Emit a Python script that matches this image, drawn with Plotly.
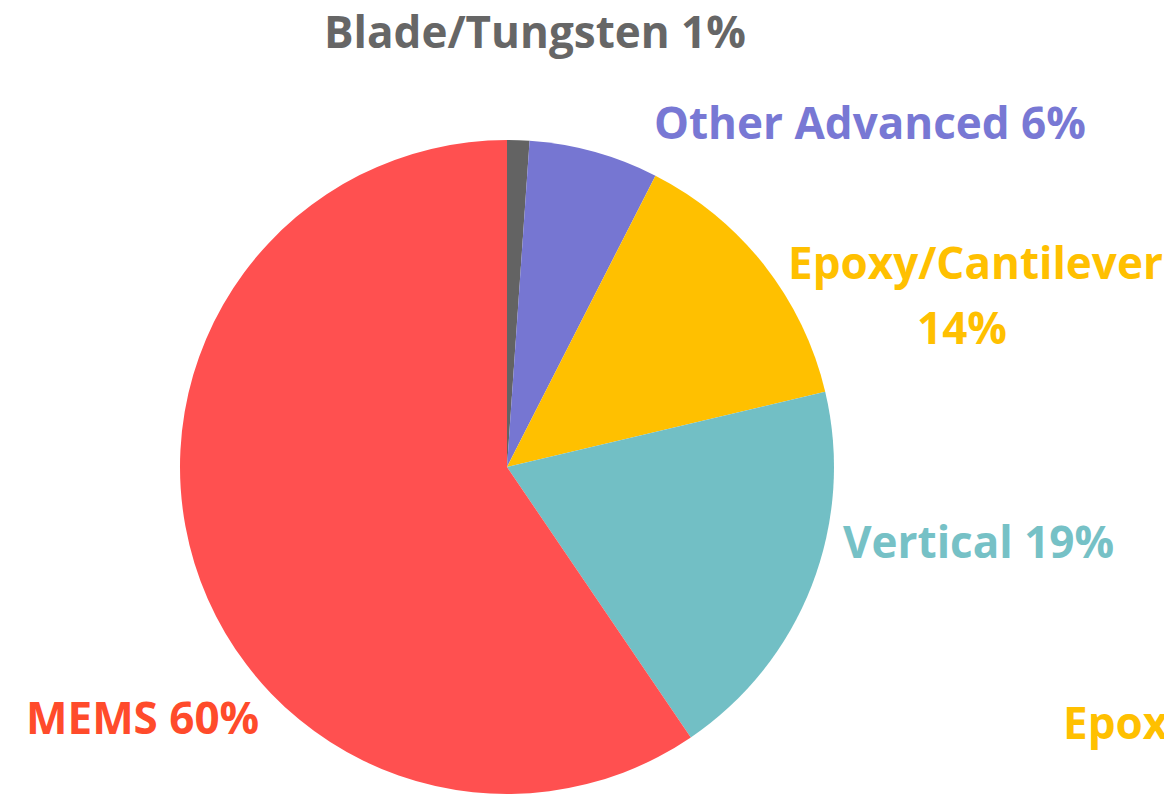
import plotly.graph_objects as go

labels = ["Blade/Tungsten", "Other Advanced", "Epoxy/Cantilever", "Vertical", "MEMS"]
values = [1.1, 6.4, 13.8, 19.2, 59.5]
pct_text = ["1%", "6%", "14%", "19%", "60%"]
slice_colors = ["#636363", "#7676D2", "#FFC000", "#72BFC5", "#FF5050"]
text_colors = ["#666666", "#7878D4", "#FFC000", "#76C1C6", "#FF4B2B"]

W, H = 1172, 794
OX, OY = 8, 8  # page body margin offset


def px(x):
    return (x - OX) / W


def py(y):
    return 1 - (y - OY) / H


fig = go.Figure(go.Pie(
    labels=labels, values=values, sort=False, direction="clockwise", rotation=0,
    marker=dict(colors=slice_colors, line=dict(width=0)),
    textinfo="none", hoverinfo="label+percent", showlegend=False,
    domain=dict(x=[px(180), px(834)], y=[py(794), py(140)]),
))

FONT = "Open Sans"
SZ = 44
ann = [
    (535, 31, "<b>" + labels[0] + " " + pct_text[0] + "</b>", text_colors[0], "center"),
    (870, 122, "<b>" + labels[1] + " " + pct_text[1] + "</b>", text_colors[1], "center"),
    (975, 262, "<b>" + labels[2] + "</b>", text_colors[2], "center"),
    (962, 327, "<b>" + pct_text[2] + "</b>", text_colors[2], "center"),
    (979, 541, "<b>" + labels[3] + " " + pct_text[3] + "</b>", text_colors[3], "center"),
    (142, 717, "<b>" + labels[4] + " " + pct_text[4] + "</b>", text_colors[4], "center"),
    (1061, 722, "<b>Epoxy/Cantilever</b>", text_colors[2], "left"),
]
annotations = []
for x, y, t, c, anchor in ann:
    annotations.append(dict(
        x=px(x), y=py(y), xref="paper", yref="paper", text=t, showarrow=False,
        xanchor=anchor, yanchor="middle", font=dict(family=FONT, size=SZ, color=c),
    ))

fig.update_layout(
    width=W, height=H, margin=dict(l=0, r=0, t=0, b=0),
    paper_bgcolor="white", plot_bgcolor="white", annotations=annotations,
)
fig.write_html("out.html")
